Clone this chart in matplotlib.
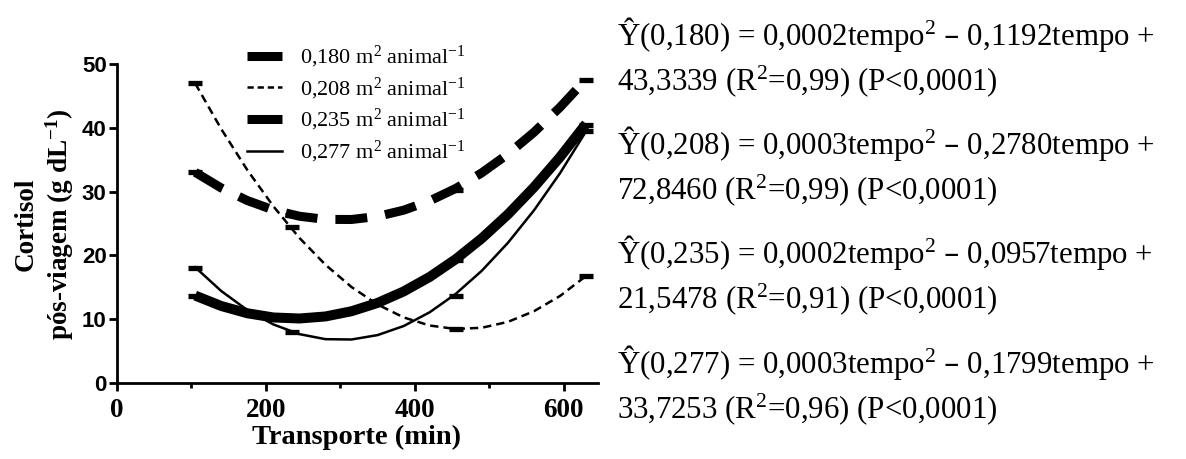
import matplotlib
matplotlib.use("Agg")
import matplotlib.pyplot as plt
from matplotlib.lines import Line2D
from matplotlib.ticker import FixedLocator

plt.rcParams['mathtext.default'] = 'regular'
plt.rcParams['lines.scale_dashes'] = False

# ---------------- data ----------------
groups = ['0,180', '0,208', '0,235', '0,277']

obs_time = [105, 235, 455, 630]
obs_180 = [33.0, 26.3, 30.2, 47.5]
obs_208 = [47.0, 24.4, 8.5, 16.8]
obs_235 = [13.6, 10.2, 19.3, 40.4]
obs_277 = [18.0, 8.0, 13.6, 39.5]

fit_time = [105, 140, 175, 210, 245, 280, 315, 350, 385, 420, 455, 490, 525, 560, 595, 630]
fit_180 = [33.02, 30.57, 28.60, 27.12, 26.14, 25.64, 25.63, 26.11, 27.09, 28.55, 30.50, 32.95, 35.88, 39.30, 43.22, 47.62]
fit_208 = [46.96, 39.81, 33.38, 27.70, 22.74, 18.53, 15.04, 12.30, 10.28, 9.01, 8.46, 8.66, 9.58, 11.25, 13.64, 16.78]
fit_235 = [13.70, 12.07, 10.93, 10.27, 10.11, 10.43, 11.25, 12.55, 14.35, 16.63, 19.41, 22.68, 26.43, 30.68, 35.41, 40.64]
fit_277 = [18.14, 14.42, 11.43, 9.18, 7.66, 6.87, 6.82, 7.51, 8.93, 11.09, 13.98, 17.60, 21.97, 27.06, 32.89, 39.46]

x_ticks = [0, 200, 400, 600]
x_tick_labels = ['0', '200', '400', '600']
x_minor = [100, 300, 500]
y_ticks = [0, 10, 20, 30, 40, 50]
y_tick_labels = ['0', '10', '20', '30', '40', '50']

legend_labels = [g + ' m$^2$ animal$^{-1}$' for g in groups]

eq_lines = [
    ("Ŷ(0,180) = 0,0002tempo$^2$ – 0,1192tempo +", "43,3339 (R$^2$=0,99) (P<0,0001)"),
    ("Ŷ(0,208) = 0,0003tempo$^2$ – 0,2780tempo +", "72,8460 (R$^2$=0,99) (P<0,0001)"),
    ("Ŷ(0,235) = 0,0002tempo$^2$ – 0,0957tempo +", "21,5478 (R$^2$=0,91) (P<0,0001)"),
    ("Ŷ(0,277) = 0,0003tempo$^2$ – 0,1799tempo +", "33,7253 (R$^2$=0,96) (P<0,0001)"),
]

# ---------------- figure ----------------
W, H = 1186, 459
fig = plt.figure(figsize=(W / 100, H / 100), dpi=100)
ax = fig.add_axes([117 / W, 1 - 383 / H, (598 - 117) / W, (383 - 64) / H])

serif = 'Liberation Serif'
sans = 'Liberation Sans'

# curves
ax.plot(fit_time, fit_180, color='black', lw=6.5, linestyle=(0, (23, 13)),
        solid_capstyle='butt', dash_capstyle='butt', zorder=2)
ax.plot(fit_time, fit_235, color='black', lw=7.2, solid_capstyle='butt', zorder=2)
ax.plot(fit_time, fit_277, color='black', lw=1.8, zorder=3)
ax.plot(fit_time, fit_208, color='black', lw=1.8, linestyle=(0, (6, 3.6)),
        dash_capstyle='butt', zorder=3)

# observed means (dash markers)
for obs in (obs_180, obs_208, obs_235, obs_277):
    ax.plot(obs_time, obs, linestyle='none', marker='_', markersize=10,
            markeredgewidth=3.8, color='black', zorder=4)

ax.set_xlim(0, 646)
ax.set_ylim(0, 50)
ax.set_xticks(x_ticks, labels=x_tick_labels, fontfamily=serif, fontweight='bold', fontsize=19.5)
ax.xaxis.set_minor_locator(FixedLocator(x_minor))
ax.set_yticks(y_ticks, labels=y_tick_labels, fontfamily=sans, fontweight='bold', fontsize=16)

for s in ('top', 'right'):
    ax.spines[s].set_visible(False)
for s in ('left', 'bottom'):
    ax.spines[s].set_linewidth(2)
ax.tick_params(axis='both', which='major', length=6, width=2, direction='out')
ax.tick_params(axis='x', which='minor', length=3.5, width=2, direction='out')
ax.tick_params(axis='y', pad=1.5)
ax.tick_params(axis='x', pad=5)

# axis labels
fig.text(357 / W, 1 - 444 / H, 'Transporte (min)', family=serif, weight='bold',
         fontsize=20.5, ha='center', va='baseline')
fig.text(33 / W, 1 - 224 / H, 'Cortisol', family=serif, weight='bold',
         fontsize=19.5, rotation=90, rotation_mode='anchor', ha='center', va='baseline')
fig.text(68 / W, 1 - 224 / H, 'pós-viagem (g dL$^{-1}$)', family=serif, weight='bold',
         fontsize=19.5, rotation=90, rotation_mode='anchor', ha='center', va='baseline')

# legend
handles = [
    Line2D([], [], color='black', lw=6.5, solid_capstyle='butt'),
    Line2D([], [], color='black', lw=1.8, linestyle=(0, (4.5, 2.8)), dash_capstyle='butt'),
    Line2D([], [], color='black', lw=6.5, solid_capstyle='butt'),
    Line2D([], [], color='black', lw=1.8),
]
leg = fig.legend(handles, legend_labels, loc='upper left',
                 bbox_to_anchor=(247 / W, 1 - 44 / H), frameon=False,
                 prop={'family': serif, 'size': 16}, handlelength=1.58,
                 handletextpad=0.8, labelspacing=0.25, borderpad=0, borderaxespad=0)

# equations
base_y = [(45, 90), (154, 199), (263, 308), (373, 418)]
for (l1, l2), (b1, b2) in zip(eq_lines, base_y):
    fig.text(617 / W, 1 - b1 / H, l1, family=serif, fontsize=22.2, ha='left', va='baseline')
    fig.text(617 / W, 1 - b2 / H, l2, family=serif, fontsize=22.2, ha='left', va='baseline')

fig.savefig('out.png', dpi=100)
